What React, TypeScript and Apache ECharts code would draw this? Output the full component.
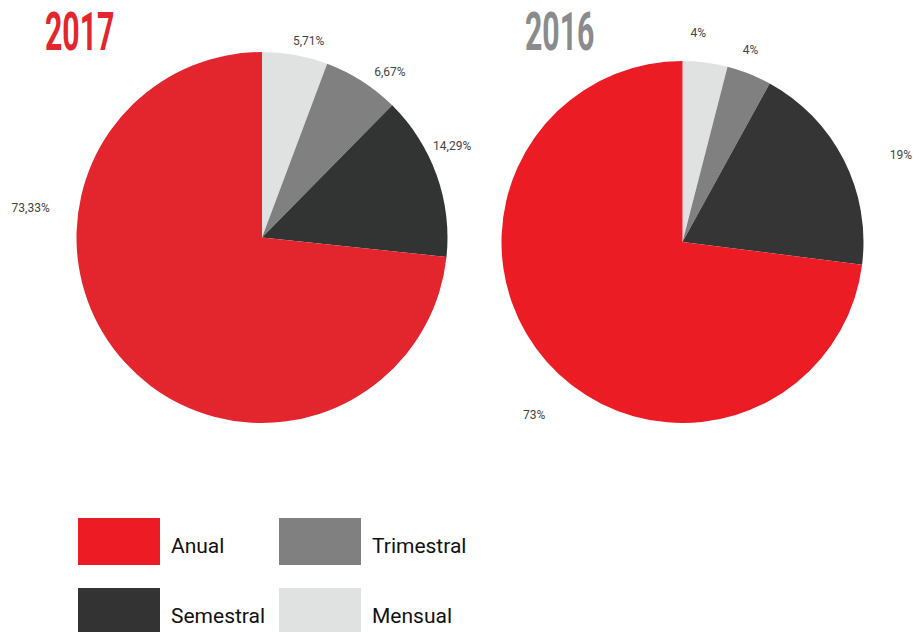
import React, { useEffect, useRef } from "react";
import * as echarts from "echarts";

const categories = ["Mensual", "Trimestral", "Semestral", "Anual"];
const values2017 = [5.71, 6.67, 14.29, 73.33];
const values2016 = [4, 4, 19, 73];
const labels2017 = ["5,71%", "6,67%", "14,29%", "73,33%"];
const labels2016 = ["4%", "4%", "19%", "73%"];
const legendCol1 = ["Anual", "Semestral"];
const legendCol2 = ["Trimestral", "Mensual"];

const colors2017 = ["#e0e2e1", "#808080", "#323333", "#e3262e"];
const colors2016 = ["#e0e2e1", "#808080", "#353535", "#ec1c24"];
const legendColors: Record<string, string> = {
  Anual: "#ed1c24",
  Semestral: "#333333",
  Trimestral: "#808080",
  Mensual: "#e0e2e1",
};

// label nudges (style only) relative to default outside position
const nudge2017 = [[-4, -4], [7, -1], [-13, -26], [-67, -160]];
const nudge2016 = [[-16, -20], [-10, -14], [37, 0], [6, 47]];

export default function App() {
  const ref = useRef<HTMLDivElement>(null);
  useEffect(() => {
    document.body.style.margin = "0";
    const chart = echarts.init(ref.current!, null, { renderer: "svg" });
    const mkSeries = (
      name: string,
      values: number[],
      labels: string[],
      colors: string[],
      center: [number, number],
      radius: number,
      nudge: number[][]
    ) => ({
      type: "pie",
      name,
      center,
      radius,
      startAngle: 90,
      clockwise: true,
      avoidLabelOverlap: false,
      data: categories.map((c, i) => ({
        name: c,
        value: values[i],
        itemStyle: { color: colors[i] },
      })),
      label: {
        show: true,
        position: "outside",
        formatter: (p: any) => labels[p.dataIndex],
        fontFamily: "Roboto",
        fontSize: 12,
        color: "#444444",
        distanceToLabelLine: 0,
      },
      labelLine: { show: false, length: 10, length2: 0 },
      labelLayout: (p: any) => ({
        x: p.labelRect.x + nudge[p.dataIndex][0],
        y: p.labelRect.y + nudge[p.dataIndex][1],
        align: "left",
        verticalAlign: "top",
      }),
      emphasis: { disabled: true },
    });
    const legendBase = {
      orient: "vertical",
      icon: "rect",
      itemWidth: 82,
      itemHeight: 47,
      itemGap: 23,
      top: 518,
      height: 140,
      padding: 0,
      selectedMode: false,
      formatter: (name: string) => `{t|${name}}`,
      textStyle: {
        fontFamily: "Roboto",
        fontSize: 21,
        color: "#111111",
        rich: {
          t: {
            fontFamily: "Roboto",
            fontSize: 21,
            color: "#111111",
            padding: [8, 0, 0, 6],
          },
        },
      },
    };
    chart.setOption({
      animation: false,
      legend: [
        {
          ...legendBase,
          left: 78,
          data: legendCol1.map((n) => ({ name: n, itemStyle: { color: legendColors[n] } })),
        },
        {
          ...legendBase,
          left: 279,
          data: legendCol2.map((n) => ({ name: n, itemStyle: { color: legendColors[n] } })),
        },
      ],
      graphic: [
        {
          type: "text",
          x: 45,
          y: 31,
          scaleX: 0.56,
          style: {
            text: "2017",
            font: "bold 54px Roboto",
            fill: "#e3262e",
            align: "left",
            verticalAlign: "middle",
          },
        },
        {
          type: "text",
          x: 525,
          y: 31,
          scaleX: 0.56,
          style: {
            text: "2016",
            font: "bold 54px Roboto",
            fill: "#8a8b8d",
            align: "left",
            verticalAlign: "middle",
          },
        },
      ],
      series: [
        mkSeries("2017", values2017, labels2017, colors2017, [262, 237.5], 185.5, nudge2017),
        mkSeries("2016", values2016, labels2016, colors2016, [682.5, 242], 181, nudge2016),
      ],
    });
    return () => chart.dispose();
  }, []);
  return (
    <div
      ref={ref}
      style={{ position: "absolute", left: 0, top: 0, width: 913, height: 632 }}
    />
  );
}
